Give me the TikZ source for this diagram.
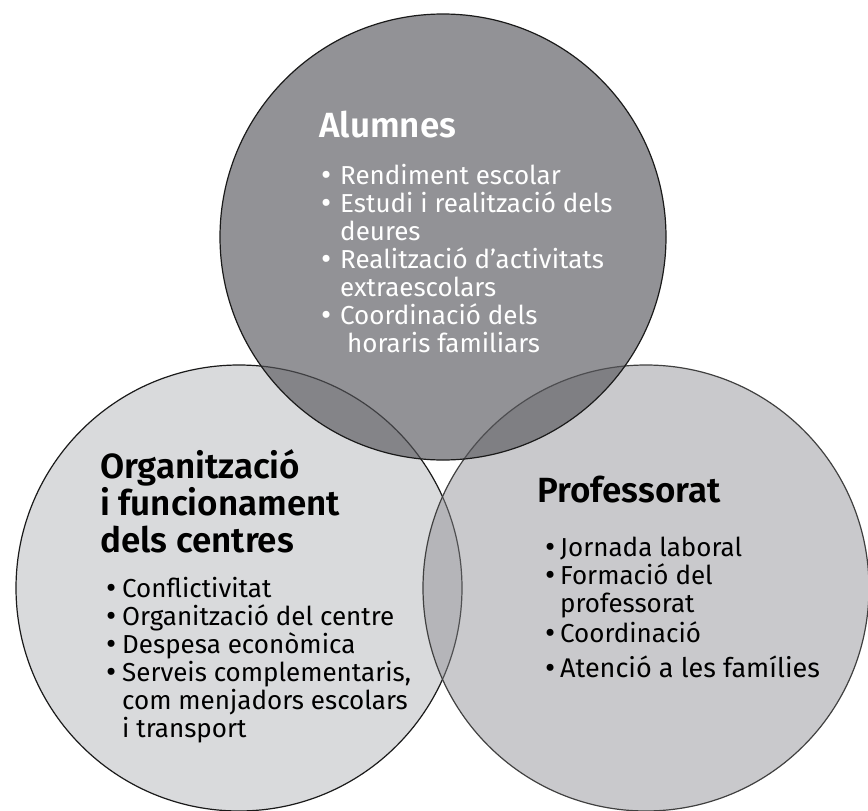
\documentclass[tikz,border=0pt]{standalone}
\usepackage{fontspec}
\setmainfont{Fira Sans}
\newfontfamily\titolfont{Fira Sans SemiBold}
\definecolor{fonsesq}{HTML}{D9DADC}
\definecolor{fonsdre}{HTML}{8D8D92}
\definecolor{fonsalt}{HTML}{55555A}
\definecolor{vora}{HTML}{1A1A1A}
\newcommand{\bul}[1][15pt]{\makebox[#1][l]{\hspace*{-1pt}\raisebox{-1.5pt}{\scalebox{1.2}{\textbullet}}}}
\newcommand{\ind}[1][15pt]{\hspace*{#1}}

\begin{document}
\begin{tikzpicture}[x=1pt,y=-1pt,line join=round,line cap=round,
		cercle/.style={circle,minimum size=446pt,inner sep=0pt,draw=vora,line width=1.2pt},
		titol/.style={anchor=base west,inner sep=0pt,align=left,font=\titolfont\fontsize{35}{37}\selectfont},
		llista/.style={anchor=base west,inner sep=0pt,align=left,font=\fontsize{26}{28}\selectfont}]
	\useasboundingbox (0,0) rectangle (868,811);
	% els tres cercles
	\node[cercle,fill=fonsesq] (organitzacio) at (239,588) {};
	\node[cercle,fill=fonsdre,fill opacity=0.47,draw=black!75] (professorat) at (646,588) {};
	\node[cercle,fill=fonsalt,fill opacity=0.64] (alumnes) at (443,237) {};
	% textos (ancorats a la base de la darrera linia)
	\node[titol,text=white] (talumnes) at (319,137) {Alumnes};
	\node[llista,text=white] (lalumnes) at (322,352) {\bul[18pt]Rendiment escolar\\
		\bul[18pt]Estudi i realització dels\\
		\ind[18pt]deures\\
		\bul[18pt]Realització d’activitats\\
		\ind[18pt]extraescolars\\
		\bul[18pt]Coordinació dels\\
		\ind[25pt]horaris familiars};
	\node[titol] (torganitzacio) at (100,552) {Organització\\i funcionament\\dels centres};
	\node[llista] (lorganitzacio) at (107,737) {\bul Conflictivitat\\
		\bul Organització del centre\\
		\bul Despesa econòmica\\
		\bul Serveis complementaris,\\
		\ind com menjadors escolars\\
		\ind i transport};
	\node[titol] (tprofessorat) at (537,502) {Professorat};
	\node[llista] (lprofessorat) at (546,677) {\bul[14pt]Jornada laboral\\
		\bul[14pt]Formació del\\
		\ind[14pt]professorat\\[2pt]
		\bul[14pt]Coordinació\\[7pt]
		\bul[14pt]{\fontsize{27}{28}\selectfont Atenció a les famílies}};
\end{tikzpicture}
\end{document}
